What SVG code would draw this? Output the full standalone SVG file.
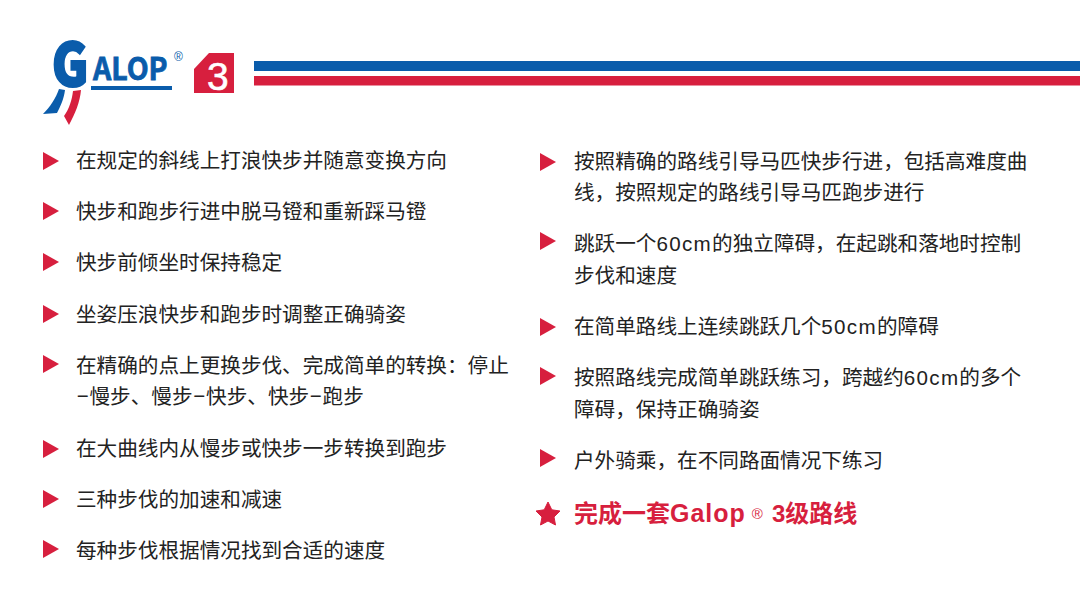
<svg xmlns="http://www.w3.org/2000/svg" width="1080" height="600" viewBox="0 0 1080 600">
<style>
.t{font-family:"Liberation Sans","Noto Sans CJK SC",sans-serif;font-size:20.62px;fill:#222}
.n{letter-spacing:1.300px}
.h{font-family:"Liberation Sans",sans-serif;font-size:25px;font-weight:700;letter-spacing:1px;fill:#d71f3e}
.r{font-family:"Liberation Sans",sans-serif;font-size:15px;font-weight:400;fill:#d71f3e}
.hc{font-family:"Liberation Sans","Noto Sans CJK SC",sans-serif;font-size:24px;font-weight:700;fill:#d71f3e}
.l{font-family:"Noto Sans CJK SC","Liberation Sans",sans-serif;fill:#0a5cab;stroke:#0a5cab}
</style>
<defs><path id="a" d="M0 0L16 9L0 18Z" fill="#d71f3e"/></defs>
<rect width="1080" height="600" fill="#fff"/>
<g id="logo">
<text class="l" transform="translate(52 85.500) scale(.84 1)" font-size="59" font-weight="900" stroke-width="2.200">G</text>
<text class="l" transform="translate(93 80) scale(.92 1)" font-size="31" font-weight="700" stroke-width=".8">ALOP</text>
<text x="174" y="60.500" font-family="Liberation Sans,sans-serif" font-size="12" fill="#0a5cab">®</text>
<rect x="91" y="86" width="81" height="4" fill="#0a5cab"/>
<path d="M59 89L65 90C64 99 60 107 57 113L43 114C50 107 56 98 59 89Z" fill="#0a5cab"/>
<path d="M73 91L81 90C80 102 75 114 69 125L64 116C69 109 72 100 73 91Z" fill="#d71f3e"/>
</g>
<g id="level">
<path d="M194 69L209 53L234 53L234 93L194 93Z" fill="#d71f3e"/>
<text x="207" y="90" font-family="Liberation Sans,sans-serif" font-size="39" fill="#fff" stroke="#fff" stroke-width=".6">3</text>
</g>
<g id="bars">
<rect x="254" y="61" width="826" height="10" fill="#0a5cab"/>
<rect x="254" y="76" width="826" height="9.500" fill="#d71f3e"/>
</g>
<g id="left-list">
<use href="#a" x="43" y="152"/><text class="t" x="76" y="168">在规定的斜线上打浪快步并随意变换方向</text>
<use href="#a" x="43" y="202"/><text class="t" x="76" y="219">快步和跑步行进中脱马镫和重新踩马镫</text>
<use href="#a" x="43" y="253"/><text class="t" x="76" y="270">快步前倾坐时保持稳定</text>
<use href="#a" x="43" y="305"/><text class="t" x="76" y="322">坐姿压浪快步和跑步时调整正确骑姿</text>
<use href="#a" x="43" y="355"/><text class="t" x="76" y="373">在精确的点上更换步伐、完成简单的转换：停止</text>
<text class="t" x="76" y="404"><tspan dy="-2" textLength="13.500" lengthAdjust="spacingAndGlyphs">-</tspan><tspan dy="2">慢步、慢步</tspan><tspan dy="-2" textLength="13.500" lengthAdjust="spacingAndGlyphs">-</tspan><tspan dy="2">快步、快步</tspan><tspan dy="-2" textLength="13.500" lengthAdjust="spacingAndGlyphs">-</tspan><tspan dy="2">跑步</tspan></text>
<use href="#a" x="43" y="440"/><text class="t" x="76" y="456">在大曲线内从慢步或快步一步转换到跑步</text>
<use href="#a" x="43" y="490"/><text class="t" x="76" y="507">三种步伐的加速和减速</text>
<use href="#a" x="43" y="540"/><text class="t" x="76" y="558">每种步伐根据情况找到合适的速度</text>
</g>
<g id="right-list">
<use href="#a" x="540" y="153"/><text class="t" x="574" y="169">按照精确的路线引导马匹快步行进，包括高难度曲</text>
<text class="t" x="574" y="200">线，按照规定的路线引导马匹跑步进行</text>
<use href="#a" x="540" y="232"/><text class="t" x="574" y="251">跳跃一个<tspan class="n">60cm</tspan>的独立障碍，在起跳和落地时控制</text>
<text class="t" x="574" y="283">步伐和速度</text>
<use href="#a" x="540" y="318"/><text class="t" x="574" y="334">在简单路线上连续跳跃几个<tspan class="n">50cm</tspan>的障碍</text>
<use href="#a" x="540" y="367"/><text class="t" x="574" y="385">按照路线完成简单跳跃练习，跨越约<tspan class="n">60cm</tspan>的多个</text>
<text class="t" x="574" y="417">障碍，保持正确骑姿</text>
<use href="#a" x="540" y="449"/><text class="t" x="574" y="468">户外骑乘，在不同路面情况下练习</text>
<path id="star" d="M548 502L551.800 509.800L560 511L554 517L555.500 525L548 521L540.500 525L542 517L536 511L544.200 509.800Z" fill="#d71f3e" stroke="#d71f3e" stroke-width="1" stroke-linejoin="round"/>
<text class="hc" x="574" y="522">完成一套<tspan class="h">Galop</tspan><tspan class="r" dx="6" dy="-3">®</tspan><tspan dx="9" dy="3">3</tspan>级路线</text>
</g>
</svg>
